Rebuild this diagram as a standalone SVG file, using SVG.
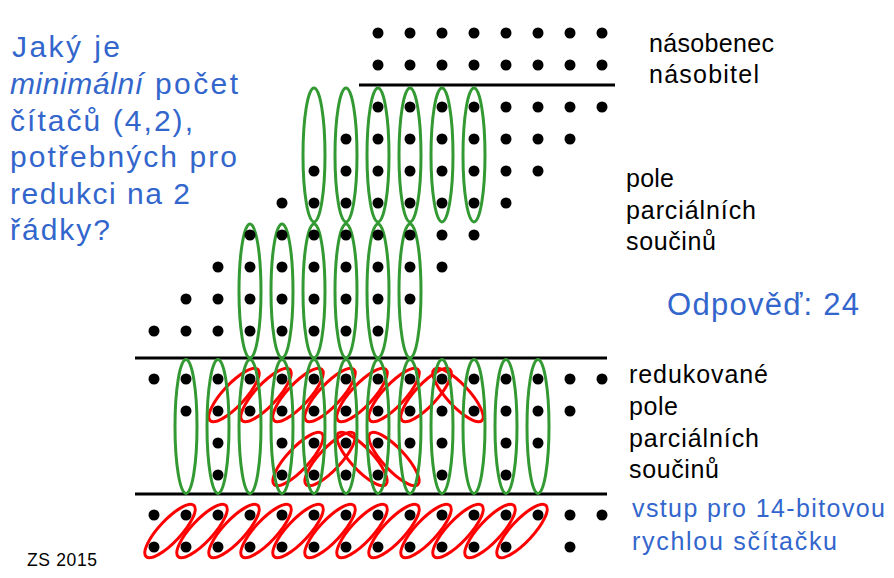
<svg xmlns="http://www.w3.org/2000/svg" xmlns:xlink="http://www.w3.org/1999/xlink" width="894" height="578" viewBox="0 0 894 578">
<style>
.g{fill:none;stroke:#339933;stroke-width:3}
.r{fill:none;stroke:#ff0000;stroke-width:3}
.ln{stroke:#000;stroke-width:3}
.bl{font-family:"Liberation Sans",Arial,sans-serif;fill:#3366cc}
.bk{font-family:"Liberation Sans",Arial,sans-serif;fill:#000}
</style>
<defs>
<circle id="d" cx="0" cy="0" r="5.5" fill="#000"/>
<ellipse id="ge" cx="0" cy="0" rx="11" ry="67" class="g"/>
<ellipse id="ru" cx="0" cy="0" rx="35" ry="11" class="r" transform="rotate(-47)"/>
<ellipse id="rd" cx="0" cy="0" rx="35" ry="11" class="r" transform="rotate(47)"/>
</defs>
<rect width="894" height="578" fill="#fff"/>

<g id="lines">
<line class="ln" x1="359" y1="85" x2="615" y2="85"/>
<line class="ln" x1="135" y1="358" x2="607" y2="358"/>
<line class="ln" x1="135" y1="494" x2="607" y2="494"/>
</g>

<g id="red-counters">
<use href="#ru" x="234" y="395"/><use href="#ru" x="266" y="395"/><use href="#ru" x="298" y="395"/><use href="#ru" x="330" y="395"/>
<use href="#ru" x="362" y="395"/><use href="#ru" x="394" y="395"/><use href="#ru" x="426" y="395"/><use href="#rd" x="458" y="395"/>
<use href="#ru" x="298" y="459"/><use href="#ru" x="330" y="459"/><use href="#rd" x="362" y="459"/><use href="#rd" x="394" y="459"/>
<use href="#ru" x="170" y="531"/><use href="#ru" x="202" y="531"/><use href="#ru" x="234" y="531"/><use href="#ru" x="266" y="531"/>
<use href="#ru" x="298" y="531"/><use href="#ru" x="330" y="531"/><use href="#ru" x="362" y="531"/><use href="#ru" x="394" y="531"/>
<use href="#ru" x="426" y="531"/><use href="#ru" x="458" y="531"/><use href="#ru" x="490" y="531"/><use href="#ru" x="522" y="531"/>
</g>

<g id="green-counters">
<use href="#ge" x="314" y="155"/><use href="#ge" x="346" y="155"/><use href="#ge" x="378" y="155"/><use href="#ge" x="410" y="155"/><use href="#ge" x="442" y="155"/><use href="#ge" x="474" y="155"/>
<use href="#ge" x="250" y="291"/><use href="#ge" x="282" y="291"/><use href="#ge" x="314" y="291"/><use href="#ge" x="346" y="291"/><use href="#ge" x="378" y="291"/><use href="#ge" x="410" y="291"/>
<use href="#ge" x="186" y="426.5"/><use href="#ge" x="218" y="426.5"/><use href="#ge" x="250" y="426.5"/><use href="#ge" x="282" y="426.5"/><use href="#ge" x="314" y="426.5"/><use href="#ge" x="346" y="426.5"/>
<use href="#ge" x="378" y="426.5"/><use href="#ge" x="410" y="426.5"/><use href="#ge" x="442" y="426.5"/><use href="#ge" x="474" y="426.5"/><use href="#ge" x="506" y="426.5"/><use href="#ge" x="538" y="426.5"/>
</g>

<g id="dots">
<use href="#d" x="378" y="33"/><use href="#d" x="410" y="33"/><use href="#d" x="442" y="33"/><use href="#d" x="474" y="33"/><use href="#d" x="506" y="33"/><use href="#d" x="538" y="33"/><use href="#d" x="570" y="33"/><use href="#d" x="602" y="33"/>
<use href="#d" x="378" y="65"/><use href="#d" x="410" y="65"/><use href="#d" x="442" y="65"/><use href="#d" x="474" y="65"/><use href="#d" x="506" y="65"/><use href="#d" x="538" y="65"/><use href="#d" x="570" y="65"/><use href="#d" x="602" y="65"/>
<use href="#d" x="378" y="107"/><use href="#d" x="410" y="107"/><use href="#d" x="442" y="107"/><use href="#d" x="474" y="107"/><use href="#d" x="506" y="107"/><use href="#d" x="538" y="107"/><use href="#d" x="570" y="107"/><use href="#d" x="602" y="107"/>
<use href="#d" x="346" y="139"/><use href="#d" x="378" y="139"/><use href="#d" x="410" y="139"/><use href="#d" x="442" y="139"/><use href="#d" x="474" y="139"/><use href="#d" x="506" y="139"/><use href="#d" x="538" y="139"/><use href="#d" x="570" y="139"/>
<use href="#d" x="314" y="171"/><use href="#d" x="346" y="171"/><use href="#d" x="378" y="171"/><use href="#d" x="410" y="171"/><use href="#d" x="442" y="171"/><use href="#d" x="474" y="171"/><use href="#d" x="506" y="171"/><use href="#d" x="538" y="171"/>
<use href="#d" x="282" y="203"/><use href="#d" x="314" y="203"/><use href="#d" x="346" y="203"/><use href="#d" x="378" y="203"/><use href="#d" x="410" y="203"/><use href="#d" x="442" y="203"/><use href="#d" x="474" y="203"/><use href="#d" x="506" y="203"/>
<use href="#d" x="250" y="235"/><use href="#d" x="282" y="235"/><use href="#d" x="314" y="235"/><use href="#d" x="346" y="235"/><use href="#d" x="378" y="235"/><use href="#d" x="410" y="235"/><use href="#d" x="442" y="235"/><use href="#d" x="474" y="235"/>
<use href="#d" x="218" y="267"/><use href="#d" x="250" y="267"/><use href="#d" x="282" y="267"/><use href="#d" x="314" y="267"/><use href="#d" x="346" y="267"/><use href="#d" x="378" y="267"/><use href="#d" x="410" y="267"/><use href="#d" x="442" y="267"/>
<use href="#d" x="186" y="299"/><use href="#d" x="218" y="299"/><use href="#d" x="250" y="299"/><use href="#d" x="282" y="299"/><use href="#d" x="314" y="299"/><use href="#d" x="346" y="299"/><use href="#d" x="378" y="299"/><use href="#d" x="410" y="299"/>
<use href="#d" x="154" y="331"/><use href="#d" x="186" y="331"/><use href="#d" x="218" y="331"/><use href="#d" x="250" y="331"/><use href="#d" x="282" y="331"/><use href="#d" x="314" y="331"/><use href="#d" x="346" y="331"/><use href="#d" x="378" y="331"/>
<use href="#d" x="154" y="379"/><use href="#d" x="186" y="379"/><use href="#d" x="218" y="379"/><use href="#d" x="250" y="379"/><use href="#d" x="282" y="379"/><use href="#d" x="314" y="379"/><use href="#d" x="346" y="379"/><use href="#d" x="378" y="379"/><use href="#d" x="410" y="379"/><use href="#d" x="442" y="379"/><use href="#d" x="474" y="379"/><use href="#d" x="506" y="379"/><use href="#d" x="538" y="379"/><use href="#d" x="570" y="379"/><use href="#d" x="602" y="379"/>
<use href="#d" x="186" y="411"/><use href="#d" x="218" y="411"/><use href="#d" x="250" y="411"/><use href="#d" x="282" y="411"/><use href="#d" x="314" y="411"/><use href="#d" x="346" y="411"/><use href="#d" x="378" y="411"/><use href="#d" x="410" y="411"/><use href="#d" x="442" y="411"/><use href="#d" x="474" y="411"/><use href="#d" x="506" y="411"/><use href="#d" x="538" y="411"/><use href="#d" x="570" y="411"/>
<use href="#d" x="218" y="443"/><use href="#d" x="282" y="443"/><use href="#d" x="314" y="443"/><use href="#d" x="346" y="443"/><use href="#d" x="378" y="443"/><use href="#d" x="410" y="443"/><use href="#d" x="442" y="443"/><use href="#d" x="506" y="443"/><use href="#d" x="538" y="443"/>
<use href="#d" x="218" y="475"/><use href="#d" x="282" y="475"/><use href="#d" x="314" y="475"/><use href="#d" x="346" y="475"/><use href="#d" x="378" y="475"/><use href="#d" x="442" y="475"/><use href="#d" x="506" y="475"/>
<use href="#d" x="154" y="515"/><use href="#d" x="186" y="515"/><use href="#d" x="218" y="515"/><use href="#d" x="250" y="515"/><use href="#d" x="282" y="515"/><use href="#d" x="314" y="515"/><use href="#d" x="346" y="515"/><use href="#d" x="378" y="515"/><use href="#d" x="410" y="515"/><use href="#d" x="442" y="515"/><use href="#d" x="474" y="515"/><use href="#d" x="506" y="515"/><use href="#d" x="538" y="515"/><use href="#d" x="570" y="515"/><use href="#d" x="602" y="515"/>
<use href="#d" x="154" y="547"/><use href="#d" x="186" y="547"/><use href="#d" x="218" y="547"/><use href="#d" x="250" y="547"/><use href="#d" x="282" y="547"/><use href="#d" x="314" y="547"/><use href="#d" x="346" y="547"/><use href="#d" x="378" y="547"/><use href="#d" x="410" y="547"/><use href="#d" x="442" y="547"/><use href="#d" x="474" y="547"/><use href="#d" x="506" y="547"/><use href="#d" x="570" y="547"/>
</g>

<g id="question" class="bl" font-size="30">
<text x="12" y="57" textLength="108">Jaký je</text>
<text x="10" y="94"><tspan font-style="italic" textLength="133">minimální</tspan><tspan x="155" textLength="83">počet</tspan></text>
<text x="10" y="130.5" textLength="183">čítačů (4,2),</text>
<text x="10" y="167" textLength="227">potřebných pro</text>
<text x="10" y="203.5" textLength="180">redukci na 2</text>
<text x="10" y="240" textLength="100">řádky?</text>
</g>

<g id="labels-top" class="bk" font-size="25">
<text x="649" y="52" textLength="125">násobenec</text>
<text x="649" y="83" textLength="110">násobitel</text>
<text x="626" y="187" textLength="48">pole</text>
<text x="626" y="219" textLength="130">parciálních</text>
<text x="626" y="250" textLength="90">součinů</text>
</g>

<g id="answer" class="bl" font-size="31">
<text x="667" y="315" textLength="192">Odpověď: 24</text>
</g>

<g id="labels-mid" class="bk" font-size="25">
<text x="629" y="383" textLength="139">redukované</text>
<text x="629" y="415" textLength="49">pole</text>
<text x="629" y="447" textLength="130">parciálních</text>
<text x="629" y="478" textLength="90">součinů</text>
</g>

<g id="labels-bottom" class="bl" font-size="25">
<text x="632" y="517" textLength="253">vstup pro 14-bitovou</text>
<text x="632" y="550" textLength="205">rychlou sčítačku</text>
</g>

<text class="bk" x="27" y="566" font-size="17.5" textLength="70">ZS 2015</text>
</svg>
